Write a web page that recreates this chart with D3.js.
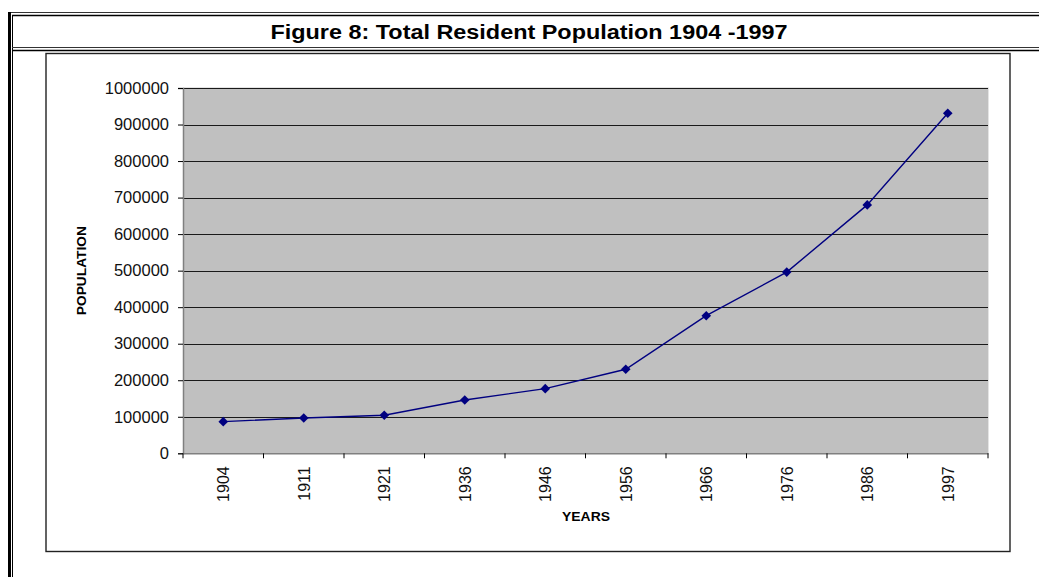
<!DOCTYPE html>
<html>
<head>
<meta charset="utf-8">
<script src="https://cdn.jsdelivr.net/npm/d3@7"></script>
<style>
  html, body { margin: 0; padding: 0; background: #fff; }
  svg { display: block; }
  text { font-family: "Liberation Sans", Arial, sans-serif; }
</style>
</head>
<body>
<svg id="chart" width="1039" height="577"></svg>
<script>
// ---- data ----
const title = "Figure 8: Total Resident Population 1904 -1997";
const years = ["1904", "1911", "1921", "1936", "1946", "1956", "1966", "1976", "1986", "1997"];
const population = [86600, 96700, 104100, 146000, 177000, 230000, 376700, 496000, 680000, 931000];
const yTicks = [0, 100000, 200000, 300000, 400000, 500000, 600000, 700000, 800000, 900000, 1000000];
const xAxisTitle = "YEARS";
const yAxisTitle = "POPULATION";

(function () {
const svg = d3.select("#chart");

// ---- page frame (double lines) ----
const frame = svg.append("g");
frame.append("line").attr("x1", 8).attr("x2", 1039).attr("y1", 12.5).attr("y2", 12.5)
  .attr("stroke", "#333").attr("stroke-width", 1);
frame.append("line").attr("x1", 12).attr("x2", 1039).attr("y1", 15.5).attr("y2", 15.5)
  .attr("stroke", "#000").attr("stroke-width", 1.6);
frame.append("line").attr("x1", 9.5).attr("x2", 9.5).attr("y1", 12).attr("y2", 577)
  .attr("stroke", "#000").attr("stroke-width", 3);
frame.append("line").attr("x1", 12.5).attr("x2", 12.5).attr("y1", 15).attr("y2", 577)
  .attr("stroke", "#000").attr("stroke-width", 1);
frame.append("line").attr("x1", 12).attr("x2", 1039).attr("y1", 47.5).attr("y2", 47.5)
  .attr("stroke", "#333").attr("stroke-width", 1);
frame.append("line").attr("x1", 12).attr("x2", 1039).attr("y1", 50.5).attr("y2", 50.5)
  .attr("stroke", "#000").attr("stroke-width", 1.6);

// title
svg.append("text")
  .attr("x", 529).attr("y", 39)
  .attr("text-anchor", "middle")
  .attr("font-weight", "bold")
  .attr("font-size", 20)
  .attr("textLength", 517)
  .attr("lengthAdjust", "spacingAndGlyphs")
  .attr("fill", "#000")
  .text(title);

// chart box
svg.append("rect")
  .attr("x", 46).attr("y", 53.5).attr("width", 964).attr("height", 498)
  .attr("fill", "#fff").attr("stroke", "#222").attr("stroke-width", 1.4);

// ---- plot ----
const pLeft = 183, pRight = 988, pTop = 88, pBottom = 453.3;

const x = d3.scaleBand().domain(years).range([pLeft, pRight]).paddingInner(0).paddingOuter(0);
const y = d3.scaleLinear().domain([0, 1000000]).range([pBottom, pTop]);

// plot area
svg.append("rect")
  .attr("x", pLeft).attr("y", pTop).attr("width", pRight - pLeft).attr("height", pBottom - pTop)
  .attr("fill", "#C0C0C0");
svg.append("path")
  .attr("d", `M${pLeft},${pTop - 0.5}H${pRight + 0.5}V${pBottom}`)
  .attr("fill", "none").attr("stroke", "#e4e4e4").attr("stroke-width", 1);

// gridlines
svg.append("g")
  .selectAll("line")
  .data(yTicks.filter(d => d > 0))
  .join("line")
  .attr("x1", pLeft).attr("x2", pRight)
  .attr("y1", d => Math.round(y(d)) + 0.5).attr("y2", d => Math.round(y(d)) + 0.5)
  .attr("stroke", "#1a1a1a").attr("stroke-width", 1);

// y axis
const yAxis = d3.axisLeft(y).tickValues(yTicks).tickSize(5).tickPadding(9).tickFormat(d3.format("d"));
const gy = svg.append("g").attr("transform", `translate(${pLeft},0)`).call(yAxis);
gy.select(".domain").attr("stroke", "#808080").attr("stroke-width", 1.5);
gy.selectAll(".tick line").attr("stroke", "#000");
gy.selectAll(".tick text")
  .attr("font-family", "'Liberation Sans', Arial, sans-serif")
  .attr("font-size", 16.5).attr("fill", "#111");

// x axis
const xAxis = d3.axisBottom(x).tickSize(0).tickFormat(d => d);
const gx = svg.append("g").attr("transform", `translate(0,${pBottom})`).call(xAxis);
gx.select(".domain").attr("stroke", "#808080").attr("stroke-width", 1.5);
gx.selectAll(".tick text")
  .attr("font-family", "'Liberation Sans', Arial, sans-serif")
  .attr("font-size", 16).attr("fill", "#111")
  .attr("text-anchor", "end")
  .attr("transform", "rotate(-90)")
  .attr("x", -13).attr("y", 0).attr("dy", "0.36em");
// tick marks at category boundaries
svg.append("g")
  .selectAll("line")
  .data(years.map(d => x(d)).concat([pRight]))
  .join("line")
  .attr("x1", d => d).attr("x2", d => d)
  .attr("y1", pBottom).attr("y2", pBottom + 5)
  .attr("stroke", "#000").attr("stroke-width", 1);

// axis titles
svg.append("text")
  .attr("transform", `translate(86,${(pTop + pBottom) / 2}) rotate(-90)`)
  .attr("text-anchor", "middle")
  .attr("font-weight", "bold").attr("font-size", 13)
  .attr("textLength", 89).attr("lengthAdjust", "spacingAndGlyphs")
  .text(yAxisTitle);
svg.append("text")
  .attr("x", 586).attr("y", 521)
  .attr("text-anchor", "middle")
  .attr("font-weight", "bold").attr("font-size", 13)
  .attr("textLength", 48).attr("lengthAdjust", "spacingAndGlyphs")
  .text(xAxisTitle);

// line
const pts = years.map((d, i) => [x(d) + x.bandwidth() / 2, y(population[i])]);
svg.append("path")
  .attr("d", d3.line()(pts))
  .attr("fill", "none").attr("stroke", "#000080").attr("stroke-width", 1.4);

// markers
svg.append("g")
  .selectAll("path")
  .data(pts)
  .join("path")
  .attr("transform", d => `translate(${d[0]},${d[1]})`)
  .attr("d", "M0,-4.8L4.8,0L0,4.8L-4.8,0Z")
  .attr("fill", "#000080");
})();
</script>
</body>
</html>
